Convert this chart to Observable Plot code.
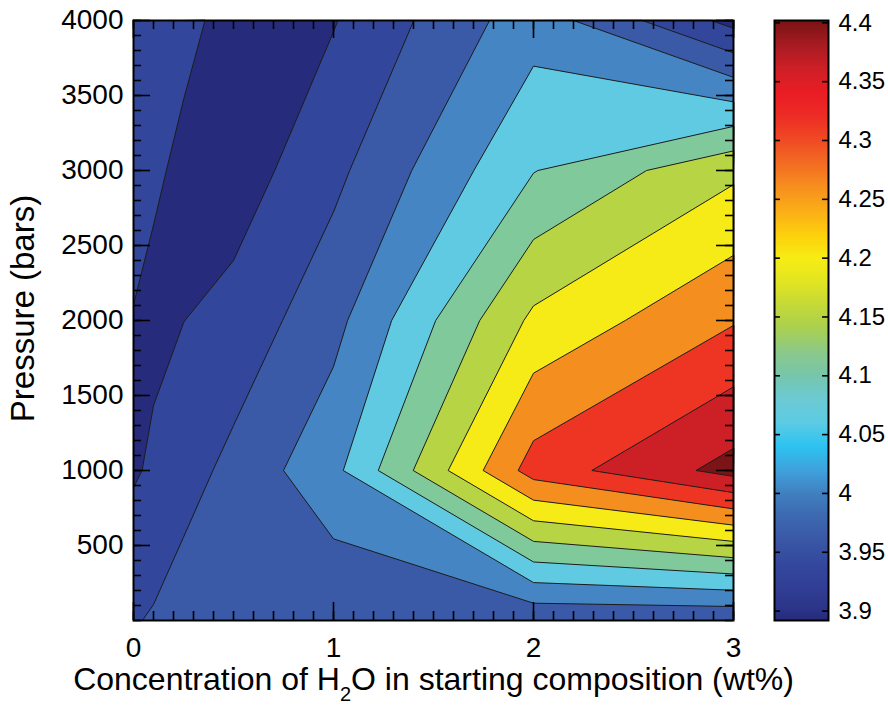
<!DOCTYPE html>
<html>
<head>
<meta charset="utf-8">
<script src="https://cdn.jsdelivr.net/npm/d3@7"></script>
<script src="https://cdn.jsdelivr.net/npm/@observablehq/plot@0.6"></script>
<style>
  html, body { margin: 0; padding: 0; background: #fff; }
  #wrap { position: relative; width: 888px; height: 709px; }
  #wrap svg { position: absolute; top: 0; overflow: visible; }
</style>
</head>
<body>
<div id="wrap"></div>
<script>
// ---- data ----
// grid columns (H2O wt%) and rows (pressure, bars)
const h2o = [0, 0.1, 0.25, 0.5, 1, 2, 3];
const pressure = [0, 1000, 2000, 3000, 4000];
// value at each column, one array per pressure row
const row0    = [3.946, 3.955, 3.975, 3.960, 3.957, 3.958, 3.957];
const row1000 = [3.894, 3.908, 3.930, 3.964, 4.036, 4.322, 4.418];
const row2000 = [3.898, 3.8895, 3.8995, 3.9173, 3.984, 4.211, 4.296];
const row3000 = [3.917, 3.906, 3.892, 3.874, 3.937, 4.098, 4.190];
const row4000 = [3.931, 3.922, 3.909, 3.888, 3.897, 4.029, 3.884];

// contour levels (first one is the floor band)
const levels = [3.80, 3.90, 3.95, 4.00, 4.05, 4.10, 4.15, 4.20, 4.25, 4.30, 4.35, 4.40];
const bandColors = ["#272b7c", "#32469b", "#3a59a6", "#4585c4", "#60cae2", "#7fc99b",
                    "#b6d443", "#f7eb17", "#f48e1f", "#ee3524", "#cc1f26", "#7b1416"];

// axes
const xTicks = [0, 1, 2, 3];
const yTicks = [500, 1000, 1500, 2000, 2500, 3000, 3500, 4000];
const xTitle = "Concentration of H2O in starting composition (wt%)";
const yTitle = "Pressure (bars)";

// colour bar
const cbDomain = [3.892, 4.402];
const cbTicks = [3.9, 3.95, 4, 4.05, 4.1, 4.15, 4.2, 4.25, 4.3, 4.35, 4.4];
const cbStops = [3.892, 3.90, 3.92, 3.94, 3.96, 3.98, 4.00, 4.02, 4.04, 4.06, 4.08, 4.10, 4.12, 4.14,
                 4.16, 4.18, 4.20, 4.22, 4.24, 4.26, 4.28, 4.30, 4.32, 4.34, 4.36, 4.38, 4.40, 4.402];
const cbColors = ["#262978", "#2a3387", "#313f95", "#34489d", "#3a57a6", "#3d68b0", "#4080c0", "#3fa2dc",
                  "#2cc3f1", "#5ccbe4", "#6ccad4", "#76c6ac", "#8cc98a", "#a9d052", "#c4d938", "#e2e522",
                  "#f8ec14", "#fcd00d", "#fbae17", "#f7901e", "#f36d22", "#f04b24", "#ed2d25", "#ea1d25",
                  "#d01f26", "#a91c22", "#7d1416", "#781315"];

// ---- contour bands on the measured (non-uniform) grid ----
const nx = h2o.length, ny = pressure.length;
const grid = [row0, row1000, row2000, row3000, row4000].flat();
const ix = d3.scaleLinear().domain(d3.range(nx)).range(h2o).clamp(true);
const iy = d3.scaleLinear().domain(d3.range(ny)).range(pressure).clamp(true);
const bands = d3.contours().size([nx, ny]).thresholds(levels)(grid);
for (const g of bands)
  for (const poly of g.coordinates)
    for (const ring of poly)
      for (const p of ring) { p[0] = ix(p[0] - 0.5); p[1] = iy(p[1] - 0.5); }
const features = bands.map(g => ({type: "Feature", properties: {value: g.value}, geometry: g}));

const font = "'Liberation Sans', Arial, Helvetica, sans-serif";
const xMinor = d3.ticks(0, 3, 30);
const yMinor = d3.ticks(0, 4000, 40);
const tk = {stroke: "black", strokeWidth: 1.6};
// tick lengths expressed in axis units (minor / major)
const xLenMinor = 0.04, xLenMajor = 0.085;   // along x, for ticks on the y sides
const yLenMinor = 60, yLenMajor = 120;        // along y, for ticks on the x sides
const [xa, xb] = [0, 3], [ya, yb] = [0, 4000];

const main = Plot.plot({
  width: 760, height: 709,
  marginLeft: 133, marginRight: 27, marginTop: 20, marginBottom: 89,
  style: {fontFamily: font, fontSize: "28px"},
  x: {domain: [xa, xb]},
  y: {domain: [ya, yb]},
  color: {type: "threshold", domain: levels.slice(1), range: bandColors},
  marks: [
    Plot.geo(features, {fill: d => d.properties.value, stroke: "#1c1c1c", strokeWidth: 1}),
    // inward ticks on all four sides
    Plot.ruleX(xMinor, {x: d => d, y1: ya, y2: ya + yLenMinor, ...tk}),
    Plot.ruleX(xMinor, {x: d => d, y1: yb - yLenMinor, y2: yb, ...tk}),
    Plot.ruleX(xTicks, {x: d => d, y1: ya, y2: ya + yLenMajor, ...tk}),
    Plot.ruleX(xTicks, {x: d => d, y1: yb - yLenMajor, y2: yb, ...tk}),
    Plot.ruleY(yMinor, {y: d => d, x1: xa, x2: xa + xLenMinor, ...tk}),
    Plot.ruleY(yMinor, {y: d => d, x1: xb - xLenMinor, x2: xb, ...tk}),
    Plot.ruleY(yTicks, {y: d => d, x1: xa, x2: xa + xLenMajor, ...tk}),
    Plot.ruleY(yTicks, {y: d => d, x1: xb - xLenMajor, x2: xb, ...tk}),
    Plot.frame({stroke: "black", strokeWidth: 2}),
    Plot.axisX(xTicks, {tickSize: 0, tickPadding: 17, label: null, tickFormat: d => String(d)}),
    Plot.axisY(yTicks, {tickSize: 0, tickPadding: 10, label: null, tickFormat: d => String(d)}),
    Plot.text([xTitle], {text: d => d, frameAnchor: "bottom", dy: 69, fontSize: 32}),
    Plot.text([yTitle], {text: d => d, frameAnchor: "left", textAnchor: "middle", rotate: -90, dx: -110, dy: -12, fontSize: 33})
  ]
});

// lower the "2" of H2O as a subscript
for (const t of main.querySelectorAll("text")) {
  if (t.textContent === xTitle) {
    t.innerHTML = 'Concentration of H<tspan font-size="20" dy="11">2</tspan><tspan dy="-11">O in starting composition (wt%)</tspan>';
  }
}

const cbLen = 0.11; // colour-bar tick length in bar-width units
const bar = Plot.plot({
  width: 114, height: 709,
  marginLeft: 0, marginRight: 60, marginTop: 20, marginBottom: 89,
  style: {fontFamily: font, fontSize: "24px"},
  x: {domain: [0, 1], axis: null},
  y: {domain: cbDomain, axis: null},
  color: {type: "linear", domain: cbStops, range: cbColors, interpolate: "rgb"},
  marks: [
    Plot.raster({fill: (x, y) => y, x1: 0, x2: 1, y1: cbDomain[0], y2: cbDomain[1]}),
    Plot.ruleY(cbTicks, {y: d => d, x1: 0, x2: cbLen, ...tk}),
    Plot.ruleY(cbTicks, {y: d => d, x1: 1 - cbLen, x2: 1, ...tk}),
    Plot.frame({stroke: "black", strokeWidth: 2}),
    Plot.axisY(cbTicks, {anchor: "right", tickSize: 0, tickPadding: 10, label: null, tickFormat: d => String(d)})
  ]
});

const wrap = document.getElementById("wrap");
main.style.left = "0px";
bar.style.left = "774px";
wrap.appendChild(main);
wrap.appendChild(bar);
</script>
</body>
</html>
